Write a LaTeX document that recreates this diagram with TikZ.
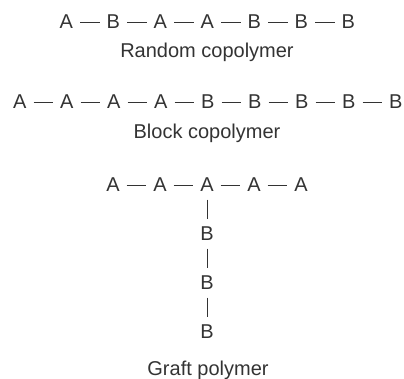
\documentclass[tikz,border=0pt]{standalone}
\usepackage{fontspec}
\setmainfont{Liberation Sans}
\usetikzlibrary{positioning}
\usepackage{xcolor}
\definecolor{inkGray}{HTML}{333333}
\tikzset{
    unit/.style={
        inner sep=0pt,
        minimum width=27pt,
        minimum height=29pt,
        text=inkGray,
        font=\fontsize{20}{23}\selectfont
    },
    caption/.style={
        inner sep=0pt,
        anchor=base,
        text=inkGray,
        font=\fontsize{20}{23}\selectfont
    },
    bond/.style={draw=inkGray,line width=0.9pt}
}

\begin{document}
\begin{tikzpicture}[node distance=19.6pt and 19.6pt]
    \useasboundingbox (0,0) rectangle (404pt,379pt);

    % random copolymer
    \node[unit] (r1) at (66.4pt,357pt) {A};
    \node[unit, right=of r1] (r2) {B};
    \node[unit, right=of r2] (r3) {A};
    \node[unit, right=of r3] (r4) {A};
    \node[unit, right=of r4] (r5) {B};
    \node[unit, right=of r5] (r6) {B};
    \node[unit, right=of r6] (r7) {B};
    \node[caption] (randomcap) at (207pt,321pt) {Random copolymer};
    \draw[bond] (r1) -- (r2) -- (r3) -- (r4) -- (r5) -- (r6) -- (r7);

    % block copolymer
    \node[unit] (b1) at (19.8pt,277pt) {A};
    \node[unit, right=of b1] (b2) {A};
    \node[unit, right=of b2] (b3) {A};
    \node[unit, right=of b3] (b4) {A};
    \node[unit, right=of b4] (b5) {B};
    \node[unit, right=of b5] (b6) {B};
    \node[unit, right=of b6] (b7) {B};
    \node[unit, right=of b7] (b8) {B};
    \node[unit, right=of b8] (b9) {B};
    \node[caption] (blockcap) at (207pt,240pt) {Block copolymer};
    \draw[bond] (b1) -- (b2) -- (b3) -- (b4) -- (b5) -- (b6) -- (b7)
        -- (b8) -- (b9);

    % graft polymer
    \node[unit] (g1) at (113pt,194pt) {A};
    \node[unit, right=of g1] (g2) {A};
    \node[unit, right=of g2] (g3) {A};
    \node[unit, right=of g3] (g4) {A};
    \node[unit, right=of g4] (g5) {A};
    \node[unit, below=of g3] (s1) {B};
    \node[unit, below=of s1] (s2) {B};
    \node[unit, below=of s2] (s3) {B};
    \node[caption] (graftcap) at (208pt,3pt) {Graft polymer};
    \draw[bond] (g1) -- (g2) -- (g3) -- (g4) -- (g5);
    \draw[bond] (g3) -- (s1) -- (s2) -- (s3);
\end{tikzpicture}
\end{document}
